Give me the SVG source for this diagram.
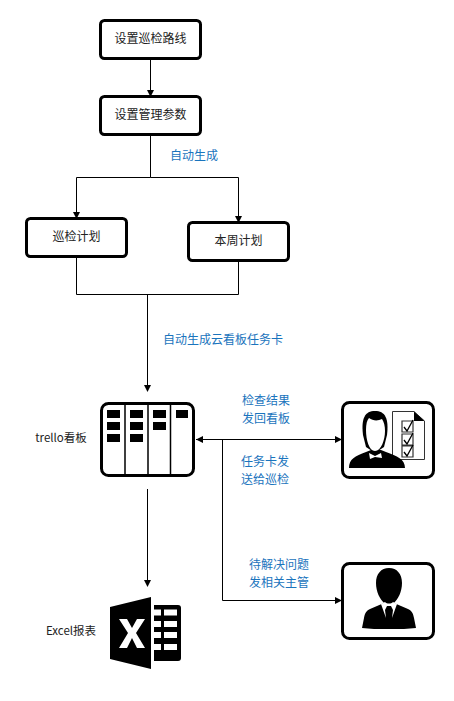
<svg xmlns="http://www.w3.org/2000/svg" width="454" height="701" viewBox="0 0 454 701">
<style>
text{font-family:"Noto Sans CJK SC","Liberation Sans",sans-serif;font-size:12px;fill:#222;text-anchor:middle}
.s{font-size:11.500px}
.b{fill:#1a74bd}
.box{fill:#fff;stroke:#000;stroke-width:3}
.l{fill:none;stroke:#000;stroke-width:1}
.k{fill:#000}
.w{fill:#fff}
</style>
<defs>
<marker id="a" markerWidth="7" markerHeight="7" refX="6" refY="3.5" orient="auto" markerUnits="userSpaceOnUse"><path d="M0 0L7 3.5L0 7z" fill="#000"/></marker>
</defs>
<rect width="454" height="701" fill="#fff"/>
<g id="connectors">
<path class="l" d="M150.500 59V96" marker-end="url(#a)"/>
<path class="l" d="M150.500 134V177.500H76.500V218" marker-end="url(#a)"/>
<path class="l" d="M150.500 177.500H238.500V222" marker-end="url(#a)"/>
<path class="l" d="M76.500 257V294.500H238.500V261"/>
<path class="l" d="M147.500 294.500V391" marker-end="url(#a)"/>
<path class="l" d="M147.500 489V586" marker-end="url(#a)"/>
<path class="l" d="M196 439.500H341" marker-end="url(#a)"/>
<path class="k" d="M196 439.500L203 436V443z"/>
<path class="l" d="M222.500 439.500V600.500H341" marker-end="url(#a)"/>
</g>
<g id="n1"><rect class="box" x="100.500" y="20.500" width="100" height="38" rx="4"/><text x="150.500" y="43">设置巡检路线</text></g>
<g id="n2"><rect class="box" x="100.500" y="96.500" width="100" height="38" rx="4"/><text x="150.500" y="119">设置管理参数</text></g>
<g id="n3"><rect class="box" x="26.500" y="218.500" width="100" height="38" rx="4"/><text x="76.500" y="241">巡检计划</text></g>
<g id="n4"><rect class="box" x="188.500" y="222.500" width="100" height="38" rx="4"/><text x="238.500" y="245">本周计划</text></g>
<g id="trello">
<rect class="box" x="101.500" y="403.500" width="92" height="72" rx="7"/>
<path fill="none" stroke="#000" stroke-width="1.500" d="M125 404V475M148 404V475M170.500 404V475"/>
<path class="k" d="M107 410h13v8h-13zM107 422h13v8h-13zM107 434h13v8h-13zM130 410h13v8h-13zM130 422h13v8h-13zM130 434h13v8h-13zM153 410h13v8h-13zM153 422h13v8h-13zM176 410h12v8h-12z"/>
<text class="s" x="61" y="442">trello看板</text>
</g>
<g id="inspector">
<rect class="box" x="342.500" y="402.500" width="91" height="75" rx="7"/>
<path fill="#fff" stroke="#333" d="M392.500 411.500H414L424.500 421V459.500H392.500z"/>
<path class="k" d="M414 411.500L424.500 421H414z"/>
<path fill="#fff" stroke="#333" stroke-width="1.200" d="M402 421h11v11h-11zM402 434h11v11h-11zM402 446h11v11h-11z"/>
<path fill="none" stroke="#000" stroke-width="1.300" d="M404 427l3 4 6-11M404 440l3 4 6-11M404 452l3 4 6-11"/>
<path class="k" d="M349 468C349 459 355 456 366 452L371 450H381L386 452C397 456 405 459 405 468z"/>
<path class="k" d="M363 435C361 418 365 411 375 411C385 411 389 418 387 435L384 447L375 453L366 447z"/>
<path class="w" d="M366 430C366 424 367 420 369 418C373 421 378 421 382 419C384 422 385 426 385 431C385 440 381 451 375 451C369 451 366 440 366 430z"/>
<path class="w" d="M369 453L375 456L381 453L382 458L375 457L370 459z"/>
</g>
<g id="manager">
<rect class="box" x="342.500" y="563.500" width="91" height="75" rx="7"/>
<path class="k" d="M389 568C397 568 402 574 402 583C402 592 398 599 394 603L408 609C412 611 413 613 414 618L416 628L404 629H374L362 628L364 618C365 613 366 611 370 609L384 603C380 599 376 592 376 583C376 574 381 568 389 568Z"/>
<path class="w" d="M381 604L385 602C387 604 391 604 393 602L397 604L392 618L393 610L391 606H387L385 610L386 618z"/>
<path class="k" d="M387 607H391L390 610L392 620L389 625L386 620L388 610z"/>
</g>
<g id="excel">
<path class="k" d="M110 607L151 597V669L110 659z"/>
<path class="k" d="M154 605H178Q181 605 181 608V658Q181 661 178 661H154z"/>
<path class="w" d="M154 609.500h7v6h-7zM164 609.500h13v6h-13zM154 621h7v6h-7zM164 621h13v6h-13zM154 632h7v6h-7zM164 632h13v6h-13zM154 644h7v6h-7zM164 644h13v6h-13z"/>
<path class="w" d="M119 619H127L132 628L137 619H145L136 633L145 648H137L132 638L127 648H119L128 633z"/>
<text class="s" x="71" y="635">Excel报表</text>
</g>
<g id="labels">
<text class="b" x="194" y="160">自动生成</text>
<text class="b" x="223" y="344">自动生成云看板任务卡</text>
<text class="b" x="266" y="405">检查结果</text>
<text class="b" x="266" y="423">发回看板</text>
<text class="b" x="265" y="466">任务卡发</text>
<text class="b" x="265" y="484">送给巡检</text>
<text class="b" x="279" y="569">待解决问题</text>
<text class="b" x="279" y="587">发相关主管</text>
</g>
</svg>
